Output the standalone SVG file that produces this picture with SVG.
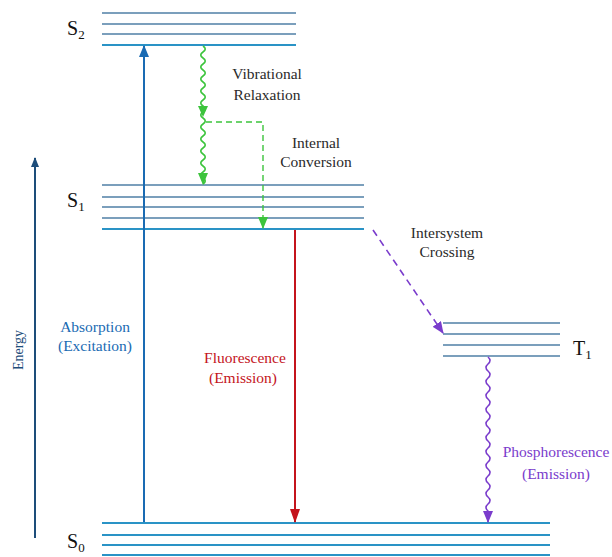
<svg xmlns="http://www.w3.org/2000/svg" width="612" height="557" viewBox="0 0 612 557">
<defs>
<style>
.lv{stroke:#4f7fa6;stroke-width:1.5;fill:none}
.lb{stroke:#2a93c6;stroke-width:2;fill:none}
.t{font-size:15.5px;text-anchor:middle}
.st{font-size:20px;fill:#111}
.sub{font-size:13px}
</style>
<marker id="ab" markerWidth="10" markerHeight="12" refX="5" refY="1" markerUnits="userSpaceOnUse" viewBox="0 0 10 12"><path d="M0,12 L5,0 L10,12 Z" fill="#1a6bb3"/></marker>
<marker id="ar" markerWidth="10" markerHeight="14" refX="5" refY="13" markerUnits="userSpaceOnUse" viewBox="0 0 10 14"><path d="M0,0 L10,0 L5,14 Z" fill="#c4141c"/></marker>
<marker id="ag" markerWidth="10" markerHeight="12" refX="5" refY="11" markerUnits="userSpaceOnUse" viewBox="0 0 10 12"><path d="M0,0 L10,0 L5,12 Z" fill="#3cc43c"/></marker>
<marker id="ap" markerWidth="10" markerHeight="12" refX="5" refY="11" markerUnits="userSpaceOnUse" viewBox="0 0 10 12"><path d="M0,0 L10,0 L5,12 Z" fill="#7a3ccc"/></marker>
<marker id="apd" markerWidth="12" markerHeight="10" refX="11" refY="5" orient="auto" markerUnits="userSpaceOnUse" viewBox="0 0 12 10"><path d="M0,0 L12,5 L0,10 Z" fill="#7a3ccc"/></marker>
<marker id="ae" markerWidth="8" markerHeight="10" refX="4" refY="1" markerUnits="userSpaceOnUse" viewBox="0 0 8 10"><path d="M0,10 L4,0 L8,10 Z" fill="#1d4d7a"/></marker>
</defs>
<rect width="612" height="557" fill="#ffffff"/>

<g font-family="'Liberation Serif', 'Times New Roman', serif">
<g id="axis">
<line x1="35" y1="538" x2="35" y2="158" stroke="#1d4d7a" stroke-width="2" marker-end="url(#ae)"/>
<text x="0" y="0" transform="translate(23,350) rotate(-90)" font-size="14" fill="#1d4d7a" text-anchor="middle">Energy</text>
</g>

<g id="S2">
<line class="lv" x1="102" y1="13" x2="296" y2="13"/>
<line class="lv" x1="102" y1="24" x2="296" y2="24"/>
<line class="lv" x1="102" y1="34" x2="296" y2="34"/>
<line class="lb" x1="102" y1="45" x2="296" y2="45"/>
<text class="st" x="67" y="35">S<tspan class="sub" dy="4">2</tspan></text>
</g>

<g id="S1">
<line class="lv" x1="102" y1="185" x2="364" y2="185"/>
<line class="lv" x1="102" y1="197" x2="364" y2="197"/>
<line class="lv" x1="102" y1="207" x2="364" y2="207"/>
<line class="lv" x1="102" y1="218" x2="364" y2="218"/>
<line class="lb" x1="102" y1="229" x2="364" y2="229"/>
<text class="st" x="67" y="207">S<tspan class="sub" dy="4">1</tspan></text>
</g>

<g id="T1">
<line class="lv" x1="443" y1="323" x2="560" y2="323"/>
<line class="lv" x1="443" y1="334" x2="560" y2="334"/>
<line class="lv" x1="443" y1="345" x2="560" y2="345"/>
<line class="lv" x1="443" y1="356" x2="560" y2="356"/>
<text class="st" x="573" y="355">T<tspan class="sub" dy="4">1</tspan></text>
</g>

<g id="S0">
<line class="lb" x1="102" y1="523" x2="550" y2="523"/>
<line class="lb" x1="102" y1="535" x2="550" y2="535"/>
<line class="lb" x1="102" y1="545" x2="550" y2="545"/>
<line class="lb" x1="102" y1="555" x2="550" y2="555"/>
<text class="st" x="67" y="548">S<tspan class="sub" dy="4">0</tspan></text>
</g>

<g id="connectors">
<line id="absorption" x1="144" y1="522" x2="144" y2="46" stroke="#1a6bb3" stroke-width="2" marker-end="url(#ab)"/>
<line id="fluorescence" x1="295" y1="230" x2="295" y2="522" stroke="#c4141c" stroke-width="2" marker-end="url(#ar)"/>
<path id="vib" d="M203,46 q4.5,3 0,6 t0,6 t0,6 t0,6 t0,6 t0,6 t0,6 t0,6 t0,6 t0,6 t0,6 t0,6 t0,6 t0,6 t0,6 t0,6 t0,6 t0,6 t0,6 t0,6 t0,6 t0,6 t0,6 L203,184" fill="none" stroke="#3cc43c" stroke-width="1.6" marker-end="url(#ag)"/>
<path d="M198,106 L208,106 L203,117 Z" fill="#3cc43c"/>
<path id="ic" d="M206,122 L263,122 L263,228" fill="none" stroke="#3cc43c" stroke-width="1.4" stroke-dasharray="6,4" marker-end="url(#ag)"/>
<path id="isc" d="M373,230 L443,333" fill="none" stroke="#7a3ccc" stroke-width="1.6" stroke-dasharray="7,5" marker-end="url(#apd)"/>
<path id="phos" d="M488,357 q4,3.5 0,7 t0,7 t0,7 t0,7 t0,7 t0,7 t0,7 t0,7 t0,7 t0,7 t0,7 t0,7 t0,7 t0,7 t0,7 t0,7 t0,7 t0,7 t0,7 t0,7 t0,7 t0,7 L488,522" fill="none" stroke="#7a3ccc" stroke-width="1.6" marker-end="url(#ap)"/>
</g>

<g id="labels">
<text class="t" x="267" y="79" fill="#2a2a2a">Vibrational</text>
<text class="t" x="267" y="100" fill="#2a2a2a">Relaxation</text>
<text class="t" x="316" y="148" fill="#2a2a2a">Internal</text>
<text class="t" x="316" y="167" fill="#2a2a2a">Conversion</text>
<text class="t" x="447" y="238" fill="#2a2a2a">Intersystem</text>
<text class="t" x="447" y="257" fill="#2a2a2a">Crossing</text>
<text class="t" x="95" y="332" fill="#1a6bb3">Absorption</text>
<text class="t" x="95" y="351" fill="#1a6bb3">(Excitation)</text>
<text class="t" x="245" y="363" fill="#c4141c">Fluorescence</text>
<text class="t" x="243" y="383" fill="#c4141c">(Emission)</text>
<text class="t" x="556" y="457" fill="#7a3ccc">Phosphorescence</text>
<text class="t" x="556" y="479" fill="#7a3ccc">(Emission)</text>
</g>
</g>
</svg>
